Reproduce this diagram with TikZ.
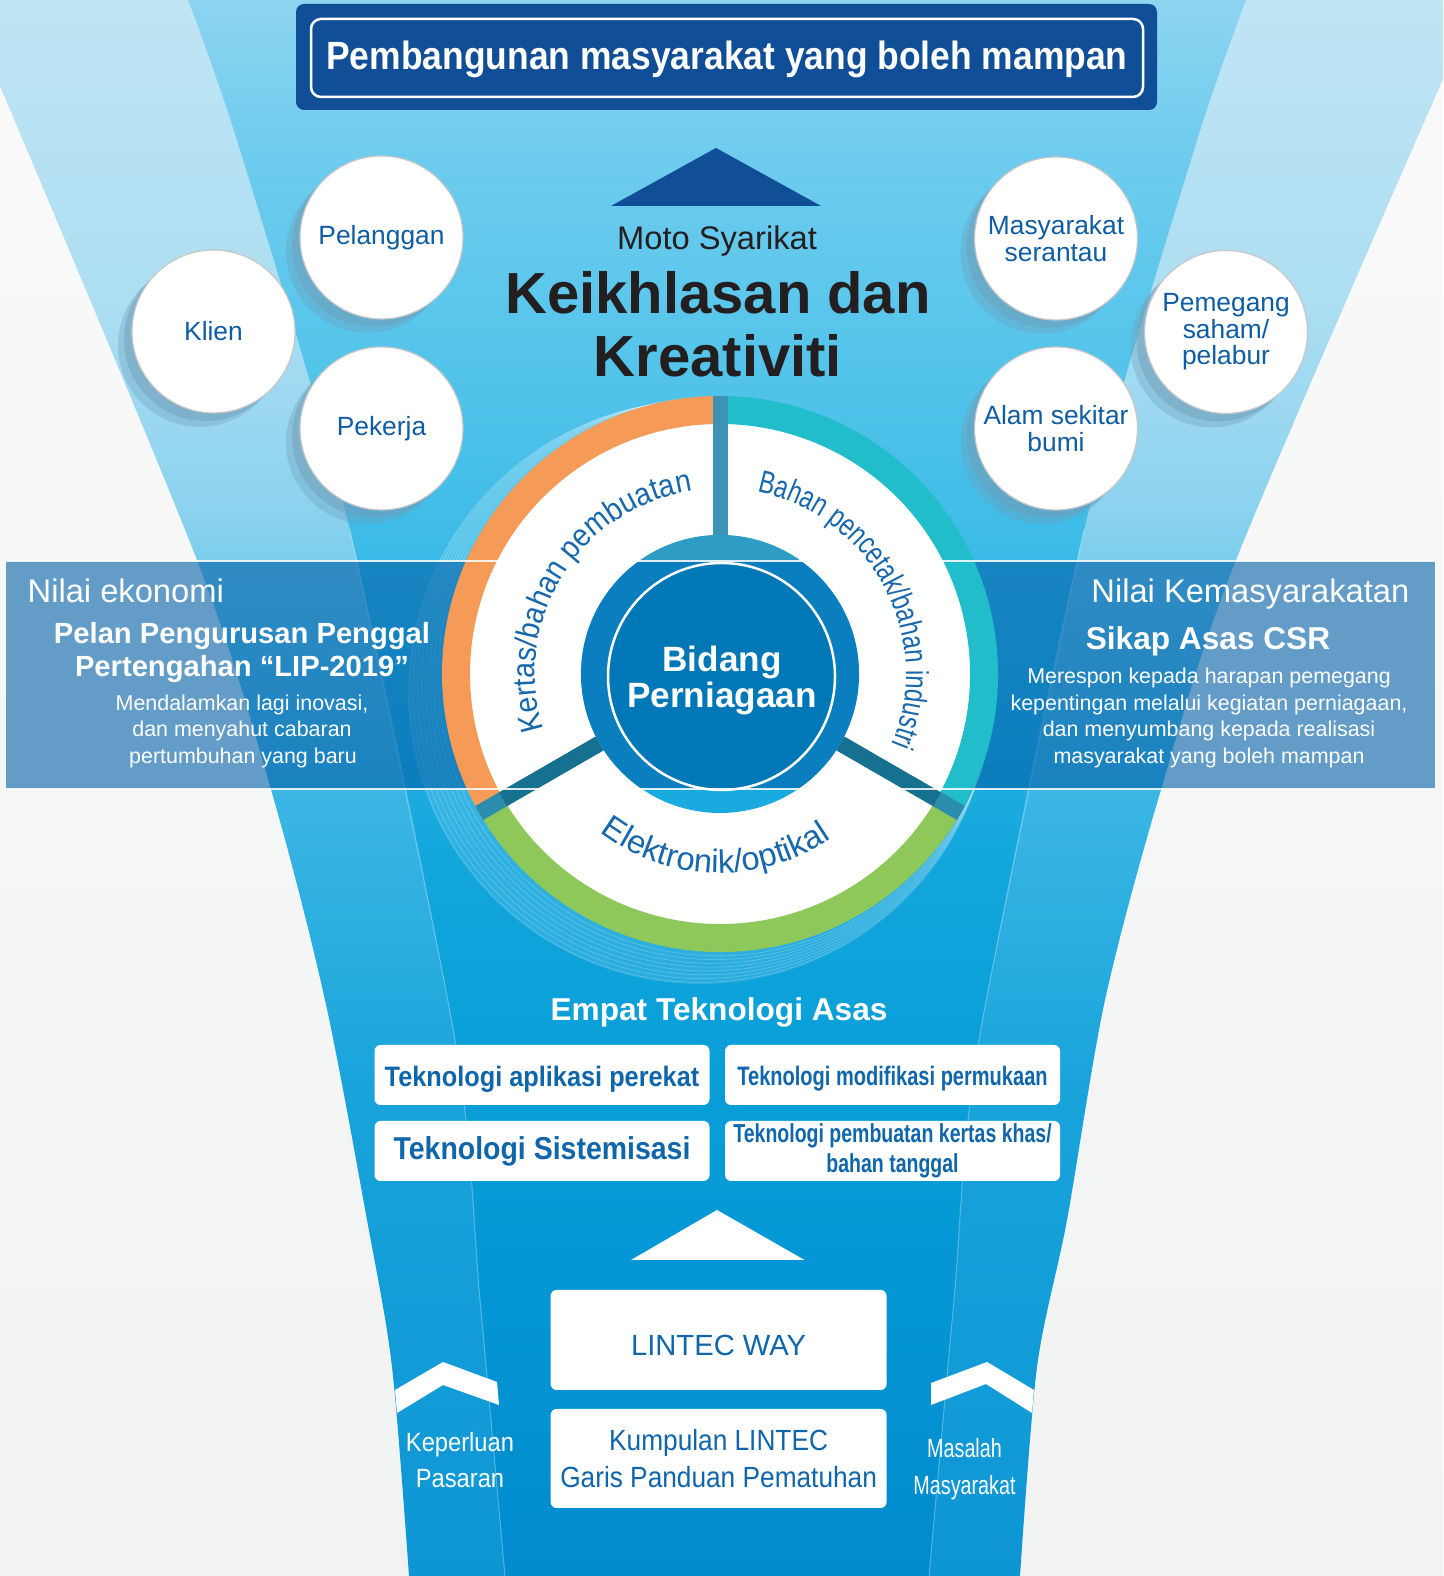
\documentclass[tikz,border=0pt]{standalone}
\usepackage{fontspec}
\setmainfont{Liberation Sans}
\newfontfamily\condfont[FakeStretch=0.9]{Liberation Sans}
\newfontfamily\narrowfont[FakeStretch=0.75]{Liberation Sans}
\usetikzlibrary{calc}
\usetikzlibrary{shadows}
\usetikzlibrary{decorations.text}

\definecolor{bgtop}{HTML}{FAFAFA}
\definecolor{bgbot}{HTML}{F1F2F2}
\definecolor{bandA}{HTML}{C0E5F4}
\definecolor{bandB}{HTML}{ADDEF2}
\definecolor{bandC}{HTML}{8DD3EF}
\definecolor{bandD}{HTML}{3AB6E4}
\definecolor{bandE}{HTML}{18A3DB}
\definecolor{bandF}{HTML}{0D96D4}
\definecolor{mainA}{HTML}{8CD4F0}
\definecolor{mainB}{HTML}{6ECCEE}
\definecolor{mainC}{HTML}{50C3EA}
\definecolor{mainD}{HTML}{31B7E5}
\definecolor{mainE}{HTML}{12A6DC}
\definecolor{mainF}{HTML}{069AD7}
\definecolor{mainG}{HTML}{008BCE}
\definecolor{titleblue}{HTML}{104E97}
\definecolor{motoblack}{HTML}{231F20}
\definecolor{stakeblue}{HTML}{0E5CA3}
\definecolor{stakeedge}{HTML}{C6C6C6}
\definecolor{shadowc}{HTML}{6F9DB8}
\definecolor{ringorange}{HTML}{F59B57}
\definecolor{ringteal}{HTML}{21BDCB}
\definecolor{ringgreen}{HTML}{8FC85A}
\definecolor{ringblue}{HTML}{1767AC}
\definecolor{corecyan}{HTML}{19ABE0}
\definecolor{coreblue}{HTML}{0077B6}
\definecolor{bandover}{HTML}{0060A8}
\definecolor{divdark}{HTML}{16708F}
\definecolor{divlight}{HTML}{2C8CAB}
\definecolor{divtop}{HTML}{3D93B3}
\definecolor{boxblue}{HTML}{0F66AA}

\pgfdeclareverticalshading{bandshade}{100bp}{color(0bp)=(bandF); color(25bp)=(bandF); color(40.1bp)=(bandE); color(49.6bp)=(bandD); color(59.1bp)=(bandC); color(65.5bp)=(bandB); color(75bp)=(bandA); color(100bp)=(bandA)}
\pgfdeclareverticalshading{mainshade}{100bp}{color(0bp)=(mainG); color(25bp)=(mainG); color(37.5bp)=(mainF); color(47.5bp)=(mainE); color(55bp)=(mainD); color(62.5bp)=(mainC); color(70bp)=(mainB); color(75bp)=(mainA); color(100bp)=(mainA)}

\newcommand\ringA{\color{ringblue}\condfont\fontsize{9}{10}\selectfont}
\newcommand\ringB{\color{ringblue}\narrowfont\fontsize{9}{10}\selectfont}
\newcommand\ringC{\color{ringblue}\fontsize{9.3}{10}\selectfont}

\begin{document}
\begin{tikzpicture}[x=0.1mm,y=0.1mm,
  stake/.style={circle,fill=white,draw=stakeedge,line width=0.12mm,minimum size=16.3mm,inner sep=0pt,align=center,text=stakeblue,font=\fontsize{7.5}{7.55}\selectfont,
    general shadow={shadow xshift=-1.4mm,shadow yshift=-1.4mm,fill=shadowc,opacity=.35},
    general shadow={shadow xshift=-0.8mm,shadow yshift=-0.8mm,fill=shadowc,opacity=.45}},
  techbox/.style={fill=white,rounded corners=0.6mm,minimum width=33.5mm,minimum height=6mm,inner sep=0pt,align=center,text=boxblue},
  paneltext/.style={anchor=base,text=white,inner sep=0pt},
  ringarc/.style={line width=2.8mm},
  bandline/.style={white,opacity=.85,line width=0.25mm}]
\useasboundingbox (0,0) rectangle (1443,1576);
\clip (0,0) rectangle (1443,1576);
\shade[top color=bgtop,bottom color=bgbot] (0,0) rectangle (1443,1576);
\shade[shading=bandshade] (0,1576) -- plot[smooth] coordinates {(0,1490) (197,1016) (272,783) (325,576) (367,356) (392,209) (409,0)}
  -- plot[smooth] coordinates {(1020,0) (1037,209) (1067,356) (1105,576) (1160,783) (1236,1016) (1443,1497)} -- (1443,1576) -- cycle;
\shade[shading=mainshade] plot[smooth] coordinates {(188,1576) (240,1426) (350,1046) (455,536) (480,276) (505,0)}
  -- plot[smooth] coordinates {(929,0) (954,276) (979,536) (1084,1046) (1194,1426) (1246,1576)} -- cycle;
\draw[white,opacity=.3,line width=0.1mm] plot[smooth] coordinates {(350,1046) (455,536) (480,276) (505,0)};
\draw[white,opacity=.3,line width=0.1mm] plot[smooth] coordinates {(1084,1046) (979,536) (954,276) (929,0)};

\fill[titleblue,rounded corners=0.8mm] (296,1466) rectangle (1157,1572);
\draw[white,line width=0.25mm,rounded corners=1mm] (311,1479) rectangle (1143,1557);
\node[anchor=base,text=white,font=\condfont\bfseries\fontsize{11.2}{12}\selectfont] (title) at (727,1506) {Pembangunan masyarakat yang boleh mampan};
\fill[titleblue] (611,1370) -- (716,1428) -- (821,1370) -- cycle;

\node[anchor=base,text=motoblack,font=\fontsize{9.3}{10}\selectfont] (moto) at (717,1326) {Moto Syarikat};
\node[anchor=base,text=motoblack,font=\bfseries\fontsize{16.5}{18}\selectfont] (keik) at (718,1262) {Keikhlasan dan};
\node[anchor=base,text=motoblack,font=\bfseries\fontsize{16.5}{18}\selectfont] (kreat) at (718,1199) {Kreativiti};

\node[stake] (pel) at (381.5,1338.5) {Pelanggan};
\node[stake] (kli) at (213.5,1244.5) {Klien};
\node[stake] (pek) at (381.5,1147.5) {Pekerja};
\node[stake] (mas) at (1056,1337.5) {Masyarakat\\serantau};
\node[stake] (pem) at (1226,1244) {Pemegang\\saham/\\pelabur};
\node[stake] (alam) at (1056,1147.5) {Alam sekitar\\bumi};

\coordinate (C) at (720,902);
\fill[white,opacity=.12] ($(C)+(-20,-18)$) circle (292);
\foreach \k in {1,...,8}
  \draw[white,opacity=.25,line width=0.06mm] ($(C)+(-2.5*\k,-2.2*\k)$) circle (278+1.6*\k);
\fill[bandover,fill opacity=.6] (6,787) rectangle (1435,1015);

\fill[white] (C) circle (251);
\draw[ringarc,ringorange] ($(C)+(90:264)$) arc[start angle=90,end angle=210,radius=264];
\draw[ringarc,ringgreen] ($(C)+(210:264)$) arc[start angle=210,end angle=330,radius=264];
\draw[ringarc,ringteal] ($(C)+(330:264)$) arc[start angle=330,end angle=450,radius=264];
\fill[corecyan] (C) circle (139);
\begin{scope}
  \clip (C) circle (139);
  \fill[divtop,opacity=.6] (500,1015) rectangle (940,1050);
  \fill[bandover,fill opacity=.6] (6,787) rectangle (1435,1015);
\end{scope}
\draw[divdark,line width=1.6mm] ($(C)+(210:139)$) -- ($(C)+(210:251)$);
\draw[divlight,line width=1.6mm] ($(C)+(210:251)$) -- ($(C)+(210:278)$);
\draw[divdark,line width=1.6mm] ($(C)+(330:139)$) -- ($(C)+(330:251)$);
\draw[divlight,line width=1.6mm] ($(C)+(330:251)$) -- ($(C)+(330:278)$);
\draw[divtop,line width=1.5mm] ($(C)+(90:139)$) -- ($(C)+(90:278)$);
\node[circle,fill=coreblue,draw=white,line width=0.25mm,minimum size=22.7mm,inner sep=0pt] (core) at ($(C)+(1.5,-2.5)$) {};
\node[align=center,text=white,font=\bfseries\fontsize{10}{10.5}\selectfont] (bidang) at (722,895.5) {Bidang\\Perniagaan};
\draw[bandline] (6,1015) -- (1435,1015);
\draw[bandline] (6,787) -- (1435,787);

\path[decorate,decoration={text along path,text={|\ringA|Kertas/bahan pembuatan},text align=center}]
  ($(C)+(210:185)$) arc[start angle=210,end angle=86,radius=185];
\path[decorate,decoration={text along path,text={|\ringB|Bahan pencetak/bahan industri},text align=center}]
  ($(C)+(90:186)$) arc[start angle=90,end angle=-34,radius=186];
\path[decorate,decoration={text along path,text={|\ringC|Elektronik/optikal},text align=center}]
  ($(C)+(218.5:199)$) arc[start angle=218.5,end angle=318.5,radius=199];

\node[paneltext,anchor=base west,font=\fontsize{9.3}{10}\selectfont] (nilaiE) at (27,973) {Nilai ekonomi};
\node[paneltext,font=\bfseries\fontsize{8.3}{9}\selectfont] (lip1) at (242,932) {Pelan Pengurusan Penggal};
\node[paneltext,font=\bfseries\fontsize{8.3}{9}\selectfont] (lip2) at (242,899) {Pertengahan “LIP-2019”};
\node[paneltext,font=\fontsize{6.1}{7}\selectfont] (ino1) at (242,865) {Mendalamkan lagi inovasi,};
\node[paneltext,font=\fontsize{6.1}{7}\selectfont] (ino2) at (242,839) {dan menyahut cabaran};
\node[paneltext,font=\fontsize{6.1}{7}\selectfont] (ino3) at (243,812) {pertumbuhan yang baru};

\node[paneltext,anchor=base east,font=\fontsize{9.3}{10}\selectfont] (nilaiK) at (1410,973) {Nilai Kemasyarakatan};
\node[paneltext,font=\bfseries\fontsize{9}{10}\selectfont] (csr) at (1208,926) {Sikap Asas CSR};
\node[paneltext,font=\fontsize{6.1}{7}\selectfont] (csr1) at (1209,892) {Merespon kepada harapan pemegang};
\node[paneltext,font=\fontsize{6.1}{7}\selectfont] (csr2) at (1209,865) {kepentingan melalui kegiatan perniagaan,};
\node[paneltext,font=\fontsize{6.1}{7}\selectfont] (csr3) at (1209,839) {dan menyumbang kepada realisasi};
\node[paneltext,font=\fontsize{6.1}{7}\selectfont] (csr4) at (1209,812) {masyarakat yang boleh mampan};

\node[paneltext,font=\bfseries\fontsize{9}{10}\selectfont] (empat) at (719,555) {Empat Teknologi Asas};
\node[techbox,font=\condfont\bfseries\fontsize{8}{9}\selectfont] (tapl) at (542,501) {\rule{0pt}{1em}Teknologi aplikasi perekat};
\node[techbox,font=\narrowfont\bfseries\fontsize{7.6}{9}\selectfont] (tmod) at (892.5,501) {\rule{0pt}{1em}Teknologi modifikasi permukaan};
\node[techbox,font=\condfont\bfseries\fontsize{9}{10}\selectfont] (tsis) at (542,425) {Teknologi Sistemisasi};
\node[techbox,font=\narrowfont\bfseries\fontsize{7.4}{8.5}\selectfont] (tker) at (892.5,425) {Teknologi pembuatan kertas khas/\\bahan tanggal};
\fill[white] (631,316) -- (717,366) -- (804.5,316) -- cycle;
\node[techbox,minimum width=33.6mm,minimum height=10mm,font=\fontsize{8.3}{9}\selectfont] (way) at (718.6,236) {\rule{0pt}{1.1em}LINTEC WAY};
\node[techbox,minimum width=33.6mm,minimum height=9.9mm,font=\condfont\fontsize{8.3}{10.3}\selectfont] (kump) at (718.6,117.5) {Kumpulan LINTEC\\Garis Panduan Pematuhan};

\fill[white] (395,186) -- (443,214) -- (497,194) -- (499,171) -- (443,191) -- (397,163) -- cycle;
\fill[white] (931,193) -- (987,214) -- (1034,186) -- (1032,163) -- (986,192) -- (931,171) -- cycle;
\node[align=center,text=white,font=\condfont\fontsize{7.5}{10.4}\selectfont] (pasaran) at (460,116) {Keperluan\\Pasaran};
\node[align=center,text=white,font=\narrowfont\fontsize{7.5}{10.5}\selectfont] (masalah) at (964.5,106.5) {Masalah\\Masyarakat};
\end{tikzpicture}
\end{document}
